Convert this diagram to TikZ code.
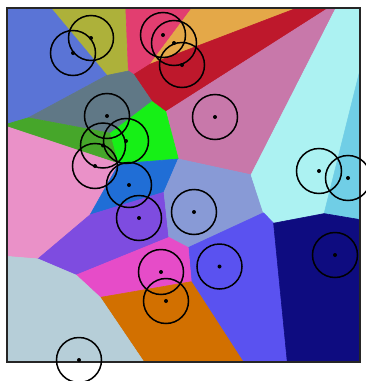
\documentclass[tikz,border=0pt]{standalone}
\usepackage{tikz}

\definecolor{cA}{RGB}{173,177,58}
\definecolor{cB}{RGB}{90,116,214}
\definecolor{cC}{RGB}{226,62,112}
\definecolor{cD}{RGB}{228,168,72}
\definecolor{cE}{RGB}{190,24,44}
\definecolor{cF}{RGB}{200,120,170}
\definecolor{cG}{RGB}{96,120,134}
\definecolor{cH}{RGB}{70,166,42}
\definecolor{cI}{RGB}{22,240,22}
\definecolor{cJ}{RGB}{234,145,200}
\definecolor{cK}{RGB}{32,110,214}
\definecolor{cL}{RGB}{126,76,224}
\definecolor{cM}{RGB}{136,154,214}
\definecolor{cN}{RGB}{172,242,242}
\definecolor{cO}{RGB}{112,206,230}
\definecolor{cP}{RGB}{90,82,240}
\definecolor{cQ}{RGB}{14,12,128}
\definecolor{cR}{RGB}{230,76,200}
\definecolor{cS}{RGB}{210,112,0}
\definecolor{cT}{RGB}{182,206,216}

\begin{document}
\begin{tikzpicture}[x=1pt, y=-1pt,
cell/.style={fill=#1, draw=#1, line width=0.6pt, line join=round},
frame/.style={draw=black!85, line width=2pt},
ring/.style={circle, draw=black, line width=1.5pt, minimum size=45pt, inner sep=0pt,
  path picture={\fill[black] (path picture bounding box.center) circle[radius=2pt];}}
]
\useasboundingbox (0,0) rectangle (365,381);

% corners and points on the border
\coordinate (tl) at (7,8);
\coordinate (tr) at (360,8);
\coordinate (br) at (360,362);
\coordinate (bl) at (7,362);
\coordinate (t1) at (50.8,8);
\coordinate (t2) at (125.8,8);
\coordinate (t3) at (192,8);
\coordinate (t4) at (297,8);
\coordinate (t5) at (328.5,8);
\coordinate (t6) at (336,8);
\coordinate (r1) at (360,70);
\coordinate (r2) at (360,219.6);
\coordinate (b1) at (287.3,362);
\coordinate (b2) at (243.2,362);
\coordinate (b3) at (143.9,362);
\coordinate (l1) at (7,256.4);
\coordinate (l2) at (7,126.7);
\coordinate (l3) at (7,124.1);

% inner corners of the cells
\coordinate (vABG) at (106.9,75.4);
\coordinate (vACG) at (128.4,71.0);
\coordinate (vCEG) at (133.7,74.6);
\coordinate (vCDE) at (150.2,64.1);
\coordinate (vEGI) at (152.0,101.5);
\coordinate (vEFI) at (165.8,111.7);
\coordinate (vFIKM) at (178.3,159.0);
\coordinate (vFMN) at (251.1,174.8);
\coordinate (vMNP) at (263.5,212.8);
\coordinate (vNPQ) at (273.6,223.2);
\coordinate (vNOQ) at (324.1,213.6);
\coordinate (vMPR) at (188.2,247.6);
\coordinate (vPRS) at (191.3,281.7);
\coordinate (vLMR) at (168.9,237.4);
\coordinate (vKLM) at (164.0,192.2);
\coordinate (vJKL) at (90.1,214.8);
\coordinate (vHIJK) at (118.8,163.8);
\coordinate (vGHI) at (110.4,133.2);
\coordinate (vBGH) at (28.3,117.8);
\coordinate (vJLT) at (37.9,258.9);
\coordinate (vLRT) at (76.1,275.1);
\coordinate (vRST) at (100.2,297.4);

% cells
\path[cell=cA] (t1) -- (t2) -- (vACG) -- (vABG) -- cycle;
\path[cell=cB] (tl) -- (t1) -- (vABG) -- (vBGH) -- (l3) -- cycle;
\path[cell=cC] (t2) -- (t3) -- (vCDE) -- (vCEG) -- (vACG) -- cycle;
\path[cell=cD] (t3) -- (t4) -- (vCDE) -- cycle;
\path[cell=cE] (vCDE) -- (t4) -- (t5) -- (vEFI) -- (vEGI) -- (vCEG) -- cycle;
\path[cell=cF] (t5) -- (t6) -- (vFMN) -- (vFIKM) -- (vEFI) -- cycle;
\path[cell=cG] (vABG) -- (vACG) -- (vCEG) -- (vEGI) -- (vGHI) -- (vBGH) -- cycle;
\path[cell=cH] (vBGH) -- (vGHI) -- (vHIJK) -- (l2) -- (l3) -- cycle;
\path[cell=cI] (vGHI) -- (vEGI) -- (vEFI) -- (vFIKM) -- (vHIJK) -- cycle;
\path[cell=cJ] (l2) -- (vHIJK) -- (vJKL) -- (vJLT) -- (l1) -- cycle;
\path[cell=cK] (vHIJK) -- (vFIKM) -- (vKLM) -- (vJKL) -- cycle;
\path[cell=cL] (vJKL) -- (vKLM) -- (vLMR) -- (vLRT) -- (vJLT) -- cycle;
\path[cell=cM] (vFIKM) -- (vFMN) -- (vMNP) -- (vMPR) -- (vLMR) -- (vKLM) -- cycle;
\path[cell=cN] (t6) -- (tr) -- (r1) -- (vNOQ) -- (vNPQ) -- (vMNP) -- (vFMN) -- cycle;
\path[cell=cO] (r1) -- (r2) -- (vNOQ) -- cycle;
\path[cell=cP] (vMNP) -- (vNPQ) -- (b1) -- (b2) -- (vPRS) -- (vMPR) -- cycle;
\path[cell=cQ] (vNOQ) -- (r2) -- (br) -- (b1) -- (vNPQ) -- cycle;
\path[cell=cR] (vLMR) -- (vMPR) -- (vPRS) -- (vRST) -- (vLRT) -- cycle;
\path[cell=cS] (vRST) -- (vPRS) -- (b2) -- (b3) -- cycle;
\path[cell=cT] (l1) -- (vJLT) -- (vLRT) -- (vRST) -- (b3) -- (bl) -- cycle;

\draw[frame] (tl) rectangle (br);

% sites with their circles
\node[ring] (sA) at (91,38) {};
\node[ring] (sB) at (73,53) {};
\node[ring] (sC) at (163,35) {};
\node[ring] (sD) at (174,43) {};
\node[ring] (sE) at (182,65) {};
\node[ring] (sF) at (215,117) {};
\node[ring] (sG) at (107,116) {};
\node[ring] (sH) at (103,145.5) {};
\node[ring] (sI) at (126,141) {};
\node[ring] (sJ) at (95,166) {};
\node[ring] (sK) at (129,185) {};
\node[ring] (sL) at (139,218) {};
\node[ring] (sM) at (194,212) {};
\node[ring] (sN) at (319,171) {};
\node[ring] (sO) at (348,178) {};
\node[ring] (sP) at (219.5,266.5) {};
\node[ring] (sQ) at (335,255) {};
\node[ring] (sR) at (161,272) {};
\node[ring] (sS) at (166,301) {};
\node[ring] (sT) at (79,360) {};
\end{tikzpicture}
\end{document}
